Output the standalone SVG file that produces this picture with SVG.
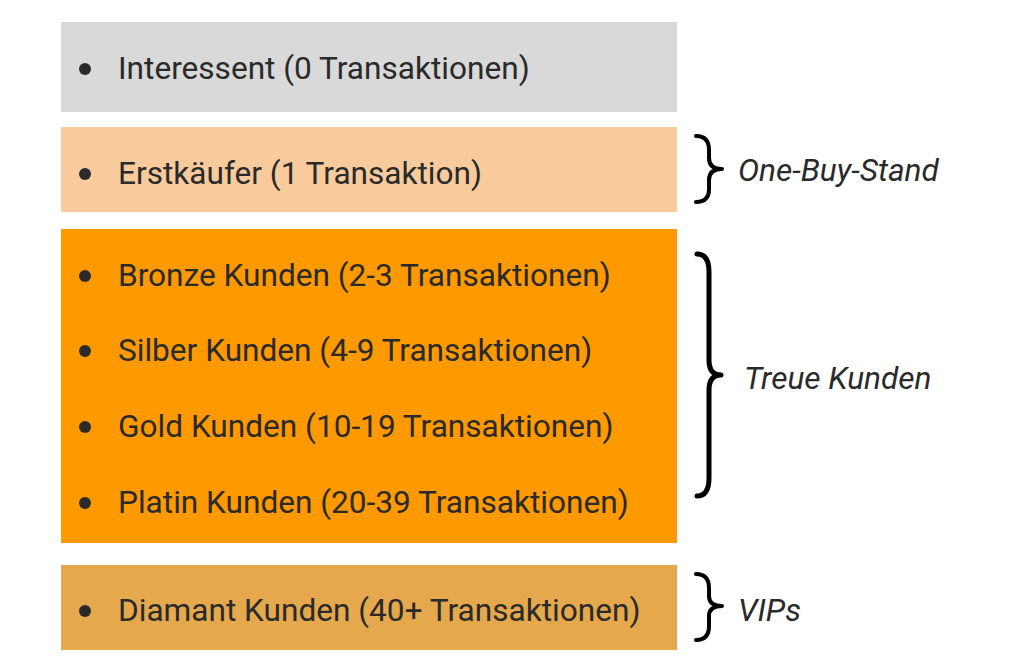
<svg xmlns="http://www.w3.org/2000/svg" width="1024" height="668" viewBox="0 0 1024 668">
<style>
.t{font-family:Roboto,"Liberation Sans",sans-serif;font-size:31.6px;fill:#2a2a2a}
.l{font-family:Roboto,"Liberation Sans",sans-serif;font-size:31.6px;font-style:italic;fill:#2a2a2a}
.b{fill:#2a2a2a}
.br{fill:none;stroke:#000;stroke-linecap:round;stroke-linejoin:round}
</style>
<rect width="1024" height="668" fill="#fff"/>
<g id="interessent">
<rect x="61" y="22" width="616" height="90" fill="#d9d9d9"/>
<circle class="b" cx="85" cy="69" r="6"/>
<text class="t" x="118" y="79">Interessent (0 Transaktionen)</text>
</g>
<g id="erstkaeufer">
<rect x="61" y="127" width="616" height="85" fill="#f9cb9c"/>
<circle class="b" cx="85" cy="174" r="6"/>
<text class="t" x="118" y="184">Erstkäufer (1 Transaktion)</text>
</g>
<g id="treue">
<rect x="61" y="229" width="616" height="314" fill="#ff9900"/>
<circle class="b" cx="85" cy="276" r="6"/>
<text class="t" x="118" y="286">Bronze Kunden (2-3 Transaktionen)</text>
<circle class="b" cx="85" cy="351" r="6"/>
<text class="t" x="118" y="361">Silber Kunden (4-9 Transaktionen)</text>
<circle class="b" cx="85" cy="427" r="6"/>
<text class="t" x="118" y="437">Gold Kunden (10-19 Transaktionen)</text>
<circle class="b" cx="85" cy="503" r="6"/>
<text class="t" x="118" y="513">Platin Kunden (20-39 Transaktionen)</text>
</g>
<g id="diamant">
<rect x="61" y="565" width="616" height="85" fill="#e6a84c"/>
<circle class="b" cx="85" cy="611" r="6"/>
<text class="t" x="118" y="621">Diamant Kunden (40+ Transaktionen)</text>
</g>
<g id="connectors">
<path class="br" stroke-width="4" d="M696,136 Q709,136 709,150 L709,158 Q709,169 722,169 Q709,169 709,180 L709,189 Q709,202 696,202"/>
<path class="br" stroke-width="5" d="M697,254 Q709,254 709,272 L709,360 Q709,375 721,375 Q709,375 709,390 L709,478 Q709,496 697,496"/>
<path class="br" stroke-width="4" d="M696,574 Q709,574 709,588 L709,596 Q709,606 722,606 Q709,606 709,616 L709,626 Q709,640 696,640"/>
</g>
<g id="labels">
<text class="l" x="738" y="181">One-Buy-Stand</text>
<text class="l" x="744" y="389">Treue Kunden</text>
<text class="l" x="738" y="621">VIPs</text>
</g>
</svg>
